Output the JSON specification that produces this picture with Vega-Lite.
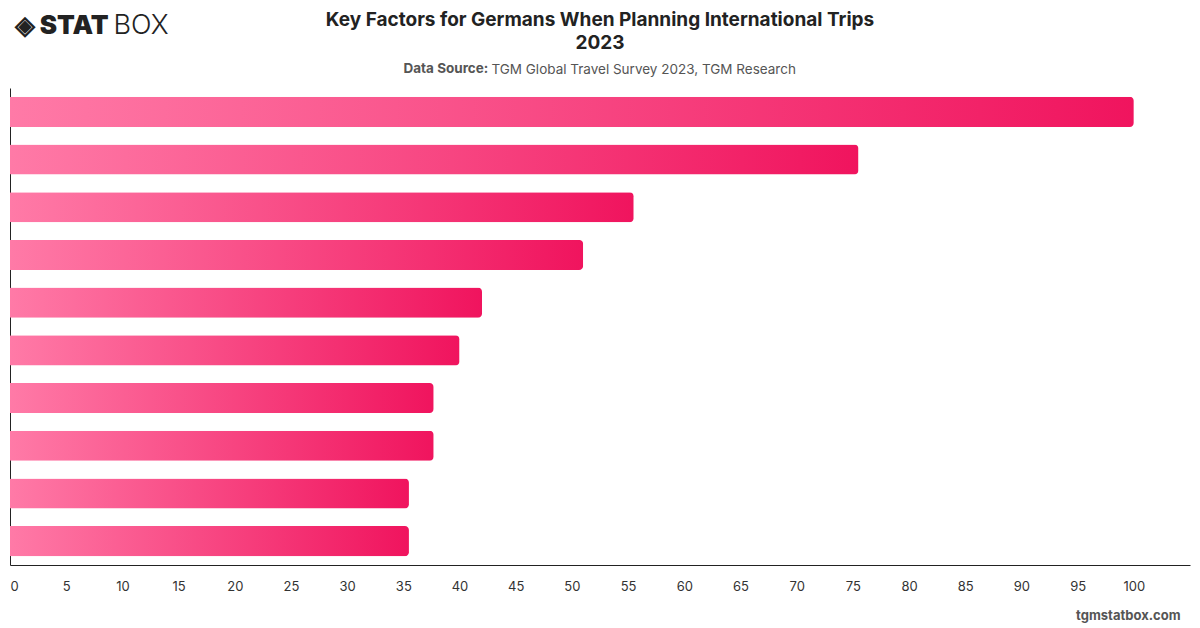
{
  "$schema": "https://vega.github.io/schema/vega-lite/v6.json",
  "autosize": "none",
  "width": 1180,
  "height": 477,
  "padding": {"left": 10, "top": 88, "right": 10, "bottom": 63},
  "background": "#ffffff",
  "title": {
    "text": ["Key Factors for Germans When Planning International Trips", "2023"],
    "subtitle": "\u200b\u00a0\u00a0\u00a0\u00a0\u00a0\u00a0\u00a0\u00a0\u00a0\u00a0\u00a0\u00a0\u00a0\u00a0\u00a0\u00a0\u00a0\u00a0\u00a0\u00a0\u00a0\u00a0\u00a0TGM Global Travel Survey 2023, TGM Research",
    "anchor": "middle",
    "frame": "group",
    "font": "Inter",
    "fontSize": 19,
    "fontWeight": "bold",
    "color": "#222222",
    "lineHeight": 23,
    "subtitleFont": "Inter",
    "subtitleFontSize": 13.5,
    "subtitleColor": "#555555",
    "subtitlePadding": 10,
    "offset": -65
  },
  "data": {
    "values": [
      {"rank": 1, "value": 100},
      {"rank": 2, "value": 75.5},
      {"rank": 3, "value": 55.5},
      {"rank": 4, "value": 51},
      {"rank": 5, "value": 42},
      {"rank": 6, "value": 40},
      {"rank": 7, "value": 37.7},
      {"rank": 8, "value": 37.7},
      {"rank": 9, "value": 35.5},
      {"rank": 10, "value": 35.5}
    ]
  },
  "layer": [
    {
      "mark": {
        "type": "bar",
        "cornerRadiusEnd": 4,
        "color": {
          "gradient": "linear",
          "x1": 0, "y1": 0, "x2": 1, "y2": 0,
          "stops": [
            {"offset": 0, "color": "#ff7aa7"},
            {"offset": 1, "color": "#f0145e"}
          ]
        }
      },
      "encoding": {
        "y": {
          "field": "rank",
          "type": "ordinal",
          "sort": "ascending",
          "scale": {"paddingInner": 0.37, "paddingOuter": 0.185},
          "axis": {
            "orient": "left",
            "labels": false,
            "ticks": false,
            "domain": true,
            "domainColor": "#222222",
            "domainWidth": 1,
            "title": "\u25c8 STAT",
            "titleAngle": 0,
            "titleAlign": "left",
            "titleBaseline": "alphabetic",
            "titleX": 4,
            "titleY": -55,
            "titleFont": "Inter",
            "titleFontSize": 26,
            "titleFontWeight": 900,
            "titleColor": "#222222"
          }
        },
        "x": {
          "field": "value",
          "type": "quantitative",
          "scale": {"domain": [0, 105], "nice": false},
          "axis": {
            "orient": "bottom",
            "values": [0, 5, 10, 15, 20, 25, 30, 35, 40, 45, 50, 55, 60, 65, 70, 75, 80, 85, 90, 95, 100],
            "grid": false,
            "ticks": false,
            "domain": true,
            "domainColor": "#222222",
            "domainWidth": 1,
            "labelFont": "Inter",
            "labelFontSize": 13,
            "labelColor": "#333333",
            "labelPadding": 15,
            "title": "tgmstatbox.com",
            "titleAlign": "right",
            "titleBaseline": "middle",
            "titleX": 1170,
            "titleY": 50,
            "titleFont": "Inter",
            "titleFontSize": 13,
            "titleFontWeight": "bold",
            "titleColor": "#555555"
          }
        }
      }
    },
    {
      "mark": {"type": "bar", "opacity": 0},
      "encoding": {
        "y": {
          "field": "rank",
          "type": "ordinal",
          "sort": "ascending",
          "axis": {
            "orient": "right",
            "labels": false,
            "ticks": false,
            "domain": false,
            "title": "BOX",
            "titleAngle": 0,
            "titleAlign": "left",
            "titleBaseline": "alphabetic",
            "titleX": -1077,
            "titleY": -55,
            "titleFont": "Inter",
            "titleFontSize": 27,
            "titleFontWeight": 300,
            "titleColor": "#222222"
          }
        },
        "x": {
          "field": "value",
          "type": "quantitative",
          "axis": {
            "orient": "top",
            "labels": false,
            "ticks": false,
            "domain": false,
            "grid": false,
            "title": "Data Source:",
            "titleAlign": "left",
            "titleBaseline": "alphabetic",
            "titleX": 393,
            "titleY": -16,
            "titleFont": "Inter",
            "titleFontSize": 13.5,
            "titleFontWeight": "bold",
            "titleColor": "#555555"
          }
        }
      }
    }
  ],
  "resolve": {"axis": {"x": "independent", "y": "independent"}},
  "config": {"view": {"stroke": null}}
}
